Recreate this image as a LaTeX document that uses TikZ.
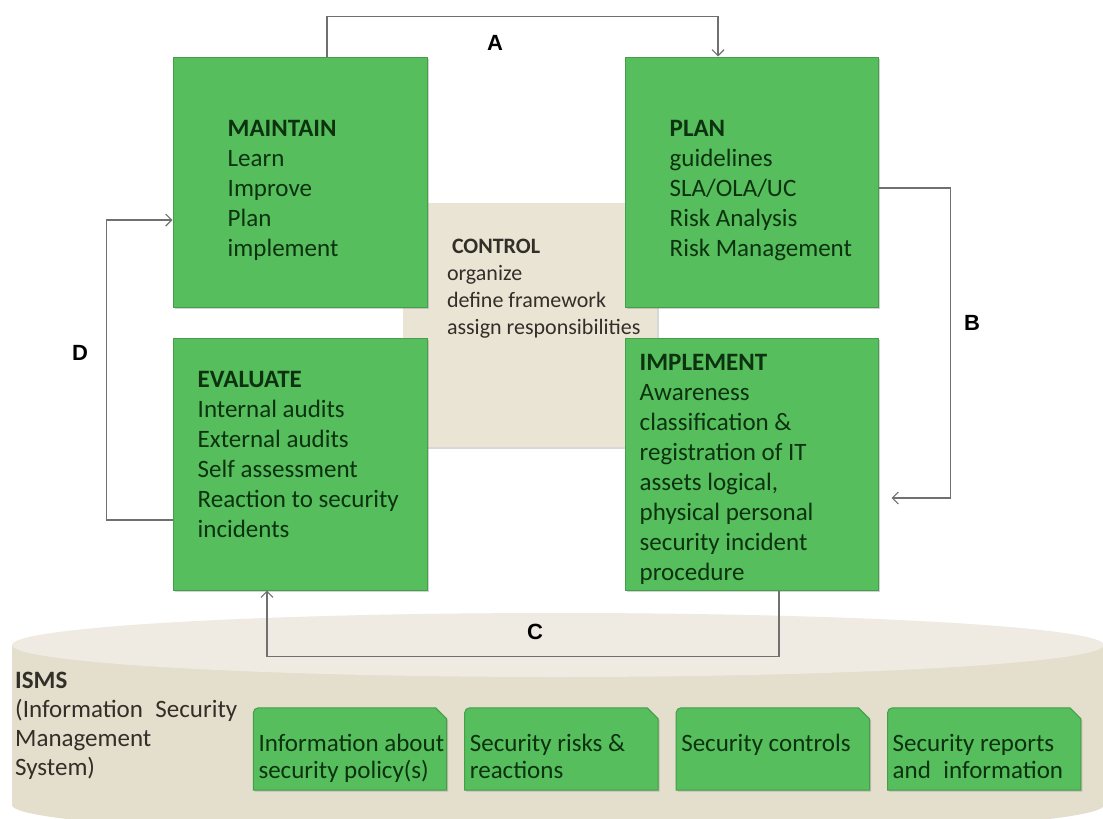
\documentclass[tikz,border=0pt]{standalone}
\usepackage{fontspec}
\setmainfont{Carlito}
\newfontfamily\lblfont{Liberation Sans}
\usetikzlibrary{positioning,arrows.meta,shadows}

\definecolor{boxgreen}{RGB}{86,190,92}
\definecolor{boxedge}{RGB}{68,158,74}
\definecolor{textgreen}{RGB}{12,50,16}
\definecolor{ctrlbeige}{RGB}{234,228,213}
\definecolor{linegray}{RGB}{112,112,112}
\definecolor{cyltop}{RGB}{239,235,226}
\definecolor{cylside}{RGB}{228,222,205}
\definecolor{ismsgray}{RGB}{50,46,40}

\tikzset{
    greenbox/.style={draw=boxedge, fill=boxgreen, line width=1pt,
        drop shadow={opacity=0.35, shadow xshift=1.5pt, shadow yshift=-1.5pt}},
    tabbox/.style={minimum width=193pt, minimum height=82pt, inner sep=0pt},
    boxtext/.style={inner sep=0pt, align=left, text=textgreen,
        font=\fontsize{25}{30}\selectfont},
    tabtext/.style={boxtext, font=\fontsize{25}{27}\selectfont},
    flow/.style={draw=linegray, line width=1.2pt, -{Straight Barb[length=6pt,width=12pt]}},
    letter/.style={font=\lblfont\bfseries\fontsize{22}{24}\selectfont}
}

\begin{document}
\begin{tikzpicture}[x=1pt, y=-1pt]
    \path[use as bounding box, fill=white] (0,0) rectangle (1103,819);
    \clip (0,0) rectangle (1103,819);

    % ISMS cylinder
    \fill[cylside] (12,645) -- (12,805)
        arc[start angle=180, end angle=360, x radius=546pt, y radius=32pt]
        -- (1104,645) -- cycle;
    \fill[cyltop] (558,645) ellipse[x radius=546pt, y radius=32pt];

    % control area
    \node[fill=ctrlbeige, minimum width=254pt, minimum height=244pt,
        drop shadow={opacity=0.3, shadow xshift=1.5pt, shadow yshift=-1.5pt}] (control) at (530,325) {};

    % four phases
    \node[greenbox, minimum width=254pt, minimum height=250pt] (maintain) at (300,182) {};
    \node[greenbox, minimum width=253pt, minimum height=250pt] (plan) at (751.5,182) {};
    \node[greenbox, minimum width=254pt, minimum height=252pt] (evaluate) at (300,464) {};
    \node[greenbox, minimum width=253pt, minimum height=252pt] (implement) at (751.5,464) {};

    % ISMS contents
    \node[tabbox] (info) at (350,749) {};
    \node[tabbox, right=18pt of info] (risks) {};
    \node[tabbox, right=18pt of risks] (controls) {};
    \node[tabbox, right=18pt of controls] (reports) {};
    \foreach \t in {info,risks,controls,reports}
        \draw[greenbox] (\t.south west) -- ([yshift=-5pt]\t.north west)
            to[out=90,in=180] ([xshift=5pt]\t.north west)
            -- ([xshift=-11pt]\t.north east) -- ([yshift=-11pt]\t.north east)
            -- (\t.south east) -- cycle;

    % connectors
    \draw[flow] ([xshift=27pt]maintain.north) -- ++(0,-40) -| ([xshift=-33.5pt]plan.north);
    \draw[flow, shorten >=13pt] ([yshift=-6pt]plan.east) -- ++(72,0) |- ([yshift=-34pt]implement.east);
    \draw[flow] ([xshift=27.5pt]implement.south) -- ++(0,66) -| ([xshift=-33pt]evaluate.south);
    \draw[flow] ([yshift=-56pt]evaluate.west) -- ++(-66,0) |- ([yshift=-38pt]maintain.west);

    \node[letter] (lblA) at (495,43) {A};
    \node[letter] (lblB) at (972,323) {B};
    \node[letter] (lblC) at (535,632) {C};
    \node[letter] (lblD) at (80,353) {D};

    % texts
    \node[boxtext, below right=64pt and 55pt of maintain.north west] (maintaintxt)
        {\textbf{MAINTAIN}\\Learn\\Improve\\Plan\\implement};
    \node[boxtext, below right=64pt and 45pt of plan.north west] (plantxt)
        {\textbf{PLAN}\\guidelines\\SLA/OLA/UC\\Risk Analysis\\Risk Management};
    \node[boxtext, below right=34pt and 25pt of evaluate.north west] (evaluatetxt)
        {\textbf{EVALUATE}\\Internal audits\\External audits\\Self assessment\\Reaction to security\\incidents};
    \node[boxtext, below right=17pt and 15pt of implement.north west] (implementtxt)
        {\textbf{IMPLEMENT}\\Awareness\\classification \&\\registration of IT\\assets logical,\\physical personal\\security incident\\procedure};
    \node[inner sep=0pt, align=left, text=ismsgray, font=\fontsize{22}{27}\selectfont,
        below right=36pt and 44pt of control.north west] (controltxt)
        {\hspace*{5pt}\textbf{CONTROL}\\organize\\define framework\\assign responsibilities};
    \node[inner sep=0pt, align=left, text=ismsgray, font=\fontsize{25}{29}\selectfont,
        anchor=north west] (ismstxt) at (15,672)
        {\textbf{ISMS}\\(Information\hspace{0.5em}Security\\Management\\System)};

    \node[tabtext, below right=26pt and 5pt of info.north west] (infotxt)
        {Information about\\security policy(s)};
    \node[tabtext, below right=26pt and 5pt of risks.north west] (riskstxt)
        {Security risks \&\\reactions};
    \node[tabtext, below right=26pt and 5pt of controls.north west] (controlstxt)
        {Security controls};
    \node[tabtext, below right=26pt and 5pt of reports.north west] (reportstxt)
        {Security reports\\and\hspace{0.5em}information};
\end{tikzpicture}
\end{document}
